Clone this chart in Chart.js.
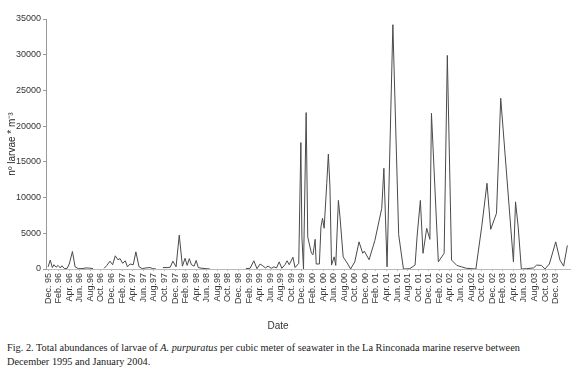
<!DOCTYPE html>
<html>
<head>
<meta charset="utf-8">
<script src="https://cdn.jsdelivr.net/npm/chart.js@4.4.1/dist/chart.umd.min.js"></script>
<style>
  html, body { margin: 0; padding: 0; background: #fff; }
  #wrap { position: relative; width: 580px; height: 374px; }
  #chart { position: absolute; left: 0; top: 0; }
  #xTitle { position: absolute; left: 278px; top: 320px; transform: translateX(-50%);
            font: 10px "Liberation Sans", Arial, sans-serif; color: #333; }
  #caption { position: absolute; left: 7px; top: 341px; width: 575px; white-space: nowrap;
             font: 10.3px "Liberation Serif", "Times New Roman", serif; color: #222; line-height: 14px; }
</style>
</head>
<body>
<div id="wrap">
  <canvas id="chart" width="580" height="338"></canvas>
  <div id="xTitle">Date</div>
  <div id="caption">Fig. 2. Total abundances of larvae of <i>A. purpuratus</i> per cubic meter of seawater in the La Rinconada marine reserve between<br>December 1995 and January 2004.</div>
</div>
<script>
// meses desde dez/1995 (eixo x) e larvas por m3; null = sem amostra
const sampleMonth = [
  0, 0.4, 0.8, 1.1, 1.5, 1.9, 2.3, 2.6, 3.1, 3.6, 4.0, 4.6, 5.1, 5.7, 6.4, 7.2, 7.9, 8.5,
  9.5,
  10.6, 11.1, 11.7, 12.2, 12.7, 13.2, 13.6, 14.1, 14.6, 15.0, 15.5, 16.1, 16.6, 17.2, 17.8, 18.5, 19.3, 19.8, 20.4,
  21.0,
  21.7, 22.5, 23.1, 23.6, 24.2, 24.8, 25.4, 25.9, 26.3, 26.7, 27.1, 27.6, 28.0, 28.4, 29.1, 29.9, 30.6,
  34.0,
  37.4, 38.2, 38.9, 39.5, 40.1, 40.6, 41.1, 41.6, 42.2, 42.7, 43.2, 43.7, 44.2, 44.8, 45.2, 45.6, 46.3, 46.7, 47.4,
  47.8, 48.0, 48.3, 48.8, 49.1, 49.8, 50.1, 50.5, 50.7, 51.3, 51.6, 51.9, 52.2, 52.7, 53.0, 53.3, 53.6, 54.1, 54.4,
  54.9, 55.2, 55.8, 56.8, 57.2, 58.0, 58.8, 59.5, 59.8, 60.7, 61.8, 63.1, 63.5, 64.1, 65.2, 66.3, 67.2, 68.4, 69.4,
  69.8, 70.4, 70.9, 71.6, 72.2, 72.5, 73.8, 74.9, 75.5, 76.3, 77.3, 78.2, 79.1, 80.9, 82.0, 83.0, 83.7, 84.8, 85.6,
  88.0, 88.4, 88.9, 89.5, 90.5, 91.8, 92.4, 93.3, 93.95, 94.8, 96.0, 96.8, 97.5, 98.2
];
const larvae = [
  300, 1250, 200, 600, 250, 500, 150, 450, 50, 100, 700, 2450, 300, 50, 50, 150, 120, 50,
  null,
  100, 500, 1100, 600, 1850, 1300, 1450, 800, 1150, 300, 700, 600, 2400, 300, 50, 150, 200, 50, 0,
  null,
  200, 200, 250, 1100, 300, 4750, 400, 1500, 500, 1450, 600, 400, 1200, 200, 100, 50, 0,
  null,
  50, 100, 1150, 50, 700, 450, 150, 400, 100, 300, 150, 1000, 100, 600, 1150, 600, 1650, 200, 800,
  17700, 4500, 0, 21900, 4500, 2200, 2000, 4150, 700, 700, 5900, 7100, 5700, 12000, 16100, 11500, 550, 1700, 500,
  9600, 7300, 1700, 550, 0, 1000, 3800, 2200, 2500, 1300, 4000, 8500, 14100, 300, 34200, 4800, 0, 50, 550,
  4750, 9600, 2200, 5700, 4150, 21800, 1000, 2200, 29900, 1250, 500, 300, 100, 0, 5900, 12000, 5550, 7800, 23900,
  1000, 9400, 5900, 0, 50, 150, 550, 500, 0, 700, 3800, 1250, 400, 3300
];
const tickLabels = [
  'Dec. 95', 'Feb. 96', 'Apr. 96', 'Jun. 96', 'Aug.96', 'Oct. 96',
  'Dec. 96', 'Feb. 97', 'Apr. 97', 'Jun. 97', 'Aug.97', 'Oct. 97',
  'Dec. 97', 'Feb. 98', 'Apr. 98', 'Jun. 98', 'Aug.98', 'Oct. 98',
  'Dec. 98', 'Feb. 99', 'Apr. 99', 'Jun. 99', 'Aug.99', 'Oct. 99',
  'Dec. 99', 'Feb. 00', 'Apr. 00', 'Jun. 00', 'Aug.00', 'Oct. 00',
  'Dec. 00', 'Feb. 01', 'Apr. 01', 'Jun. 01', 'Aug.01', 'Oct. 01',
  'Dec. 01', 'Feb. 02', 'Apr. 02', 'Jun. 02', 'Aug.02', 'Oct. 02',
  'Dec. 02', 'Feb. 03', 'Apr. 03', 'Jun. 03', 'Aug.03', 'Oct. 03',
  'Dec. 03'
];
const yTicks = [0, 5000, 10000, 15000, 20000, 25000, 30000, 35000];

const pontos = sampleMonth.map((m, i) => ({ x: m, y: larvae[i] }));
const tickFont = { family: '"Liberation Sans Narrow", "Liberation Sans", Arial, sans-serif', size: 9 };

const ctx = document.getElementById('chart').getContext('2d');
const grafico = new Chart(ctx, {
    type: 'line',
    data: {
        datasets: [{
            data: pontos,
            borderColor: '#4a4a4a',
            borderWidth: 1,
            pointRadius: 0,
            tension: 0,
            spanGaps: false,
        }]
    },
    options: {
        responsive: false,
        animation: false,
        layout: { padding: { top: 19, right: 10, left: 0, bottom: 0 } },
        plugins: {
            legend: { display: false },
            tooltip: { enabled: false },
        },
        scales: {
            x: {
                type: 'linear',
                min: -0.4,
                max: 98.7,
                afterBuildTicks: (scale) => {
                    scale.ticks = tickLabels.map((t, i) => ({ value: i * 2 }));
                },
                afterFit: (scale) => { scale.height = 69; },
                ticks: {
                    autoSkip: false,
                    maxRotation: 90,
                    minRotation: 90,
                    padding: 2,
                    color: '#333',
                    font: tickFont,
                    callback: (v) => tickLabels[Math.round(v / 2)],
                },
                grid: { drawOnChartArea: false, drawTicks: true, tickLength: 2, color: '#bbb' },
                border: { display: true, color: '#bbb' },
            },
            y: {
                min: 0,
                max: 35000,
                afterBuildTicks: (scale) => {
                    scale.ticks = yTicks.map(v => ({ value: v }));
                },
                afterFit: (scale) => { scale.width = 46; },
                ticks: {
                    color: '#333',
                    padding: 2,
                    font: tickFont,
                    callback: (v) => String(v),
                },
                grid: { drawOnChartArea: false, drawTicks: true, tickLength: 3, color: '#999' },
                border: { display: true, color: '#999' },
                title: {
                    display: true,
                    text: 'nº larvae * m⁻³',
                    color: '#222',
                    font: { family: '"Liberation Sans", Arial, sans-serif', size: 10 },
                    padding: { top: 6, bottom: 0 },
                },
            }
        }
    }
});
</script>
</body>
</html>
